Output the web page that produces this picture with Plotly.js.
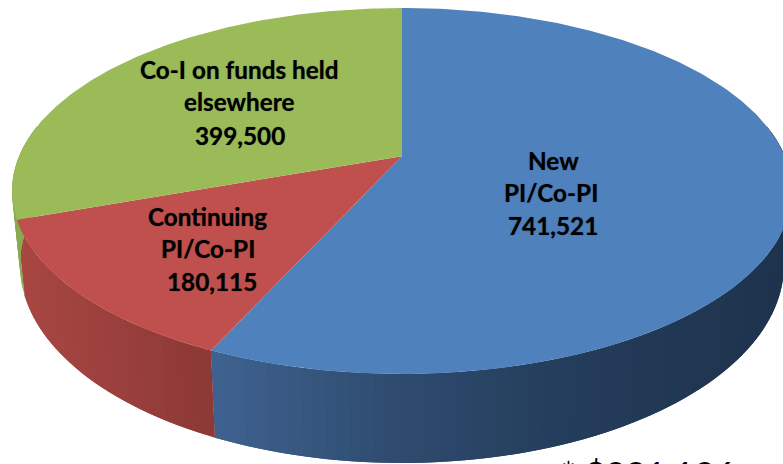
<!DOCTYPE html>
<html><head><meta charset="utf-8">
<script src="https://cdn.plot.ly/plotly-3.0.1.min.js"></script>
<style>html,body{margin:0;padding:0;background:#fff}#c{width:783px;height:464px}</style>
</head><body><div id="c"></div>
<script>
const categories = [["New","PI/Co-PI"], ["Continuing","PI/Co-PI"], ["Co-I on funds held","elsewhere"]];
const values = [741521, 180115, 399500];
const valueLabels = ["741,521", "180,115", "399,500"];
const topColors = ["#4f81bd", "#c0504d", "#9bbb59"];
const wallStops = [
  [[215,[63,99,145]],[400,[47,76,112]],[560,[37,62,93]],[783,[30,51,77]]],
  [[20,[168,70,66]],[120,[155,64,61]],[215,[140,57,54]]],
  [[10,[138,168,80]],[30,[138,168,80]]]
];
const boundaryTrim = [2.3, -0.8];
const labelX = [[553,551,553],[207,208,212],[239,239,240]];
const labelY = [[160,192,225],[216,248,281],[69,101,135]];
const footnote = "* $321,136";

const TOP = {cx:402, cy:191, rx:390, ry:183, a:0.19};
const BOT = {cx:402, cy:265, rx:382, ry:198};
const total = values.reduce((s,v)=>s+v,0);
const rad = d => d*Math.PI/180;
function warp(deg){
  const u=Math.sin(rad(deg)), v=Math.cos(rad(deg)), a=TOP.a;
  const d=1+a*v;
  return [u*Math.sqrt(1-a*a)/d, (v+a)/d];
}
const onTop = n => [TOP.cx+TOP.rx*n[0], TOP.cy-TOP.ry*n[1]];
const onBot = n => [BOT.cx+BOT.rx*n[0], BOT.cy-BOT.ry*n[1]];
function shade(stops,x){
  if(x<=stops[0][0]) return stops[0][1];
  for(let i=1;i<stops.length;i++){
    if(x<=stops[i][0]){
      const t=(x-stops[i-1][0])/(stops[i][0]-stops[i-1][0]);
      return stops[i-1][1].map((c,k)=>c+(stops[i][1][k]-c)*t);
    }
  }
  return stops[stops.length-1][1];
}
const rgb = c => `rgb(${c.map(Math.round).join(',')})`;

let cum=0;
const bounds=[0];
values.forEach((v,i)=>{cum+=v; bounds.push(cum/total*360+(i<2?boundaryTrim[i]:0));});

const traces=[];
const poly=(xs,ys,color)=>traces.push({type:'scatter',mode:'lines',x:xs,y:ys,fill:'toself',fillcolor:color,
  line:{color:color,width:0},hoverinfo:'skip',showlegend:false});

// side walls: painted back to front so each strip runs under the next one, which hides seams
values.forEach((v,i)=>{
  const a0=Math.max(bounds[i],80), a1=Math.min(bounds[i+1],280);
  if(a1<=a0) return;
  const n=Math.ceil((a1-a0)/1.5), step=(a1-a0)/n;
  for(let k=n-1;k>=0;k--){
    const s=a0+step*k;
    const arc=[];
    for(let j=0;j<=4;j++) arc.push(warp(s+ (step/2)*j > a1 ? a1 : s+(step/2)*j));
    const tp=arc.map(onTop), bt=arc.map(onBot).reverse();
    const p=tp.concat(bt);
    const mid=onTop(warp(s+step/2));
    poly(p.map(q=>q[0]).concat(p[0][0]),p.map(q=>q[1]).concat(p[0][1]),rgb(shade(wallStops[i],mid[0])));
  }
});
// top faces
const apex=onTop([0,TOP.a]);
values.forEach((v,i)=>{
  const xs=[apex[0]],ys=[apex[1]];
  const n=Math.ceil((bounds[i+1]-bounds[i])/0.75);
  for(let k=0;k<=n;k++){
    const q=onTop(warp(bounds[i]+(bounds[i+1]-bounds[i])*k/n));
    xs.push(q[0]);ys.push(q[1]);
  }
  xs.push(apex[0]);ys.push(apex[1]);
  poly(xs,ys,topColors[i]);
});

const annotations=[];
categories.forEach((c,i)=>{
  c.concat(valueLabels[i]).forEach((t,j)=>annotations.push({
    x:labelX[i][j],y:labelY[i][j],xref:'x',yref:'y',showarrow:false,text:t,align:'center',
    font:{family:'Lato, "Open Sans", sans-serif',size:24.3,color:'#000',weight:700,shadow:'0 0 1px rgba(0,0,0,0.55)'}
  }));
});
annotations.push({x:559,y:450,xref:'x',yref:'y',xanchor:'left',yanchor:'top',showarrow:false,text:footnote,
  font:{family:'Lato, sans-serif',size:35,color:'#000'}});

Plotly.newPlot('c',traces,{
  width:783,height:464,margin:{l:0,r:0,t:0,b:0},
  paper_bgcolor:'#fff',plot_bgcolor:'#fff',showlegend:false,
  xaxis:{range:[0,783],visible:false,fixedrange:true},
  yaxis:{range:[464,0],visible:false,fixedrange:true},
  annotations
},{displayModeBar:false,staticPlot:true});
</script></body></html>
